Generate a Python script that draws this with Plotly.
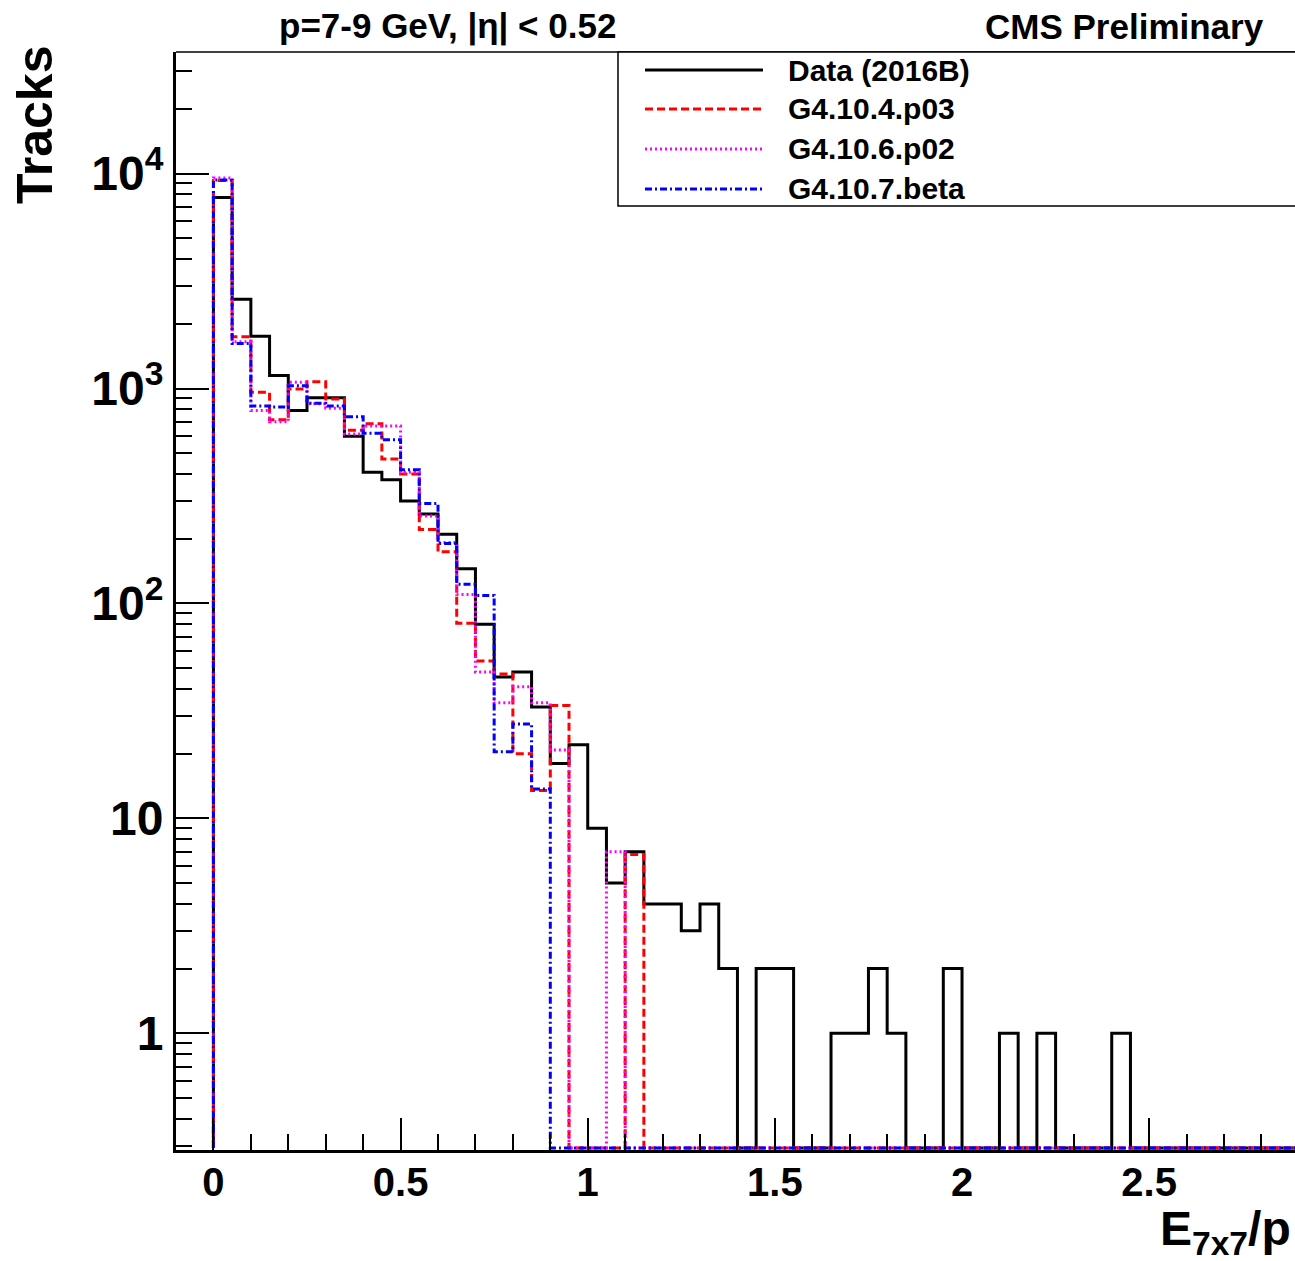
import plotly.graph_objects as go

# ---------------- data (bin width 0.05, first bin starts at 0) ----------------
bin_width = 0.05
n_bins = 60

data_2016B = [7750, 2600, 1750, 1150, 790, 905, 905, 600, 408, 376,
              300, 261, 210, 145, 80, 45.5, 48, 33, 18, 22,
              9, 5, 7, 4, 4, 3, 4, 2, 0, 2,
              2, 0, 0, 1, 1, 2, 1, 0, 0, 2,
              0, 0, 1, 0, 1, 0, 0, 0, 1]
g4_10_4_p03 = [9300, 1740, 960, 715, 995, 1075, 895, 640, 685, 470,
               400, 221, 174, 81, 54, 47, 20, 13.5, 33.5, 0,
               0, 0, 6.8]
g4_10_6_p02 = [9550, 1650, 790, 700, 1070, 850, 810, 615, 670, 670,
               408, 255, 192, 110, 48, 34.5, 41, 34.5, 20.8, 0,
               0, 7, 0]
g4_10_7_beta = [9350, 1620, 830, 820, 1030, 855, 830, 740, 620, 578,
                419, 292, 190, 123, 109, 20.4, 27.5, 13.7, 0]

series_names = ["Data (2016B)", "G4.10.4.p03", "G4.10.6.p02", "G4.10.7.beta"]
series_values = [data_2016B, g4_10_4_p03, g4_10_6_p02, g4_10_7_beta]
series_colors = ["black", "#ff0000", "#ff00ff", "#0000ff"]
series_dash = ["solid", "8px,4px", "2px,3px", "7px,3px,2px,3px"]

x_tick_vals = [0, 0.5, 1, 1.5, 2, 2.5]
x_tick_text = ["0", "0.5", "1", "1.5", "2", "2.5"]
y_tick_vals = [1, 10, 100, 1000, 10000]
y_tick_text = ["1", "10", "10<sup>2</sup>", "10<sup>3</sup>", "10<sup>4</sup>"]

# ---------------- layout constants ----------------
W, H = 1295, 1261
L, R, T, B = 176, 0, 52, 111
x_range = [-0.1, 2.8896]
y_range = [-0.543, 4.566]
FONT = "Liberation Sans"

def px_x(p):
    return (p - L) / (W - L - R)

def px_y(p):
    return (H - B - p) / (H - T - B)

floor_val = 10 ** (y_range[0] + 2.0 / 215)

fig = go.Figure()
for name, vals, col, dash in zip(series_names, series_values, series_colors, series_dash):
    full = list(vals) + [0] * (n_bins - len(vals))
    plot_vals = [v if v > 0 else floor_val for v in full]
    xs = [0.0] + [i * bin_width for i in range(n_bins + 1)]
    ys = [floor_val] + plot_vals + [plot_vals[-1]]
    fig.add_trace(go.Scatter(
        x=xs, y=ys, mode="lines", name=name,
        line=dict(color=col, width=3, dash=dash, shape="hv"),
        showlegend=False, hoverinfo="skip"))

minor_x = [round(0.1 * i, 2) for i in range(-1, 29) if i % 5 != 0]
minor_y = [m * 10 ** d for d in range(-1, 5) for m in range(2, 10)]

fig.update_layout(
    width=W, height=H,
    margin=dict(l=L, r=R, t=T, b=B, pad=0),
    paper_bgcolor="white", plot_bgcolor="white",
    font=dict(family=FONT, color="black"),
    xaxis=dict(
        range=x_range, showgrid=False, zeroline=False,
        showline=True, linecolor="black", linewidth=3,
        tickmode="array", tickvals=x_tick_vals, ticktext=x_tick_text,
        ticks="inside", ticklen=32, tickwidth=2, tickcolor="black",
        ticklabelstandoff=-5,
        tickfont=dict(family=FONT, size=40, weight="bold", color="black"),
        minor=dict(tickmode="array", tickvals=minor_x, ticks="inside",
                   ticklen=16, tickwidth=2, tickcolor="black", showgrid=False),
    ),
    yaxis=dict(
        type="log", range=y_range, showgrid=False, zeroline=False,
        showline=True, linecolor="black", linewidth=3,
        tickmode="array", tickvals=y_tick_vals, ticktext=y_tick_text,
        ticks="inside", ticklen=33, tickwidth=2, tickcolor="black",
        tickfont=dict(family=FONT, size=48, weight="bold", color="black"),
        minor=dict(tickmode="array", tickvals=minor_y, ticks="inside",
                   ticklen=16, tickwidth=2, tickcolor="black", showgrid=False),
    ),
)

shapes = []
# top frame line
shapes.append(dict(type="line", xref="paper", yref="paper", x0=0, x1=1.01, y0=1, y1=1,
                   line=dict(color="black", width=1.5)))
# legend box
shapes.append(dict(type="rect", xref="paper", yref="paper",
                   x0=px_x(618), x1=1.01, y0=px_y(206), y1=1,
                   line=dict(color="black", width=1.5), fillcolor="white", layer="above"))
row_y = [70, 109, 149, 189]
annotations = []
for name, col, dash, ry in zip(series_names, series_colors, series_dash, row_y):
    shapes.append(dict(type="line", xref="paper", yref="paper",
                       x0=px_x(645), x1=px_x(763), y0=px_y(ry), y1=px_y(ry),
                       line=dict(color=col, width=3, dash=dash), layer="above"))
    annotations.append(dict(text=name, xref="paper", yref="paper",
                            x=px_x(786), y=px_y(ry), xanchor="left", yanchor="middle",
                            showarrow=False,
                            font=dict(family=FONT, size=30, weight="bold", color="black")))

annotations.append(dict(text="p=7-9 GeV, |η| < 0.52", xref="paper", yref="paper",
                        x=px_x(277), y=px_y(26), xanchor="left", yanchor="middle",
                        showarrow=False,
                        font=dict(family=FONT, size=35, weight="bold", color="black")))
annotations.append(dict(text="CMS Preliminary", xref="paper", yref="paper",
                        x=px_x(1266), y=px_y(26), xanchor="right", yanchor="middle",
                        showarrow=False,
                        font=dict(family=FONT, size=35, weight="bold", color="black")))
annotations.append(dict(text="Tracks", xref="paper", yref="paper",
                        x=px_x(35), y=px_y(125), xanchor="center", yanchor="middle",
                        textangle=-90, showarrow=False,
                        font=dict(family=FONT, size=50, weight="bold", color="black")))
annotations.append(dict(text="E<sub>7x7</sub>/p", xref="paper", yref="paper",
                        x=px_x(1293), y=px_y(1232), xanchor="right", yanchor="middle",
                        showarrow=False,
                        font=dict(family=FONT, size=48, weight="bold", color="black")))

fig.update_layout(shapes=shapes, annotations=annotations)
fig.write_html("out.html")
